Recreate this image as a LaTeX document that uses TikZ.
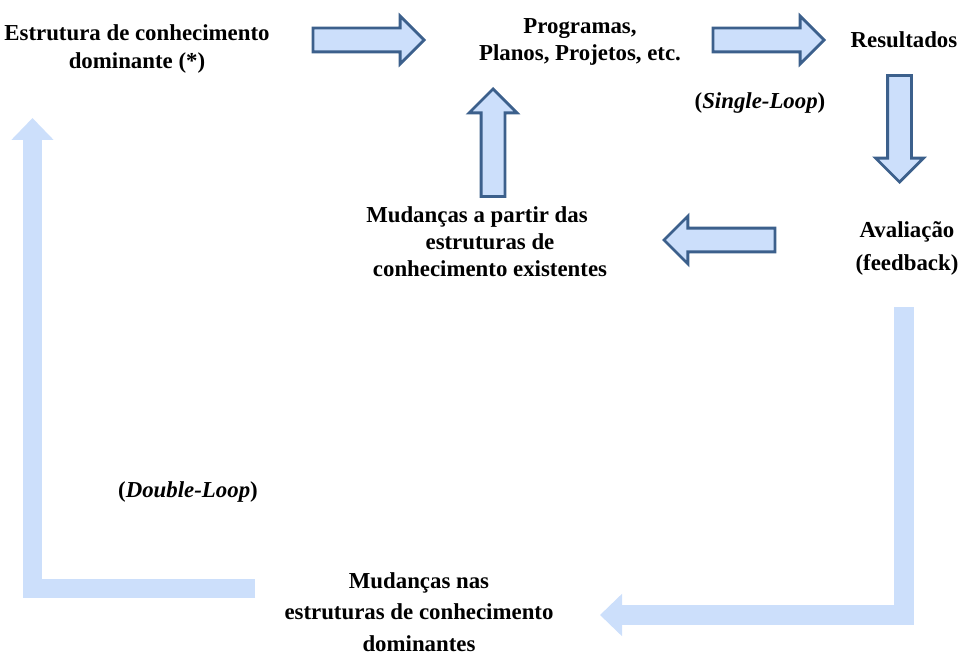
\documentclass[tikz,border=0pt]{standalone}
\usepackage{fontspec}
\setmainfont{Liberation Serif}
\usetikzlibrary{positioning, shapes, arrows.meta}
\definecolor{my_lightblue}{RGB}{204, 223, 251}
\definecolor{my_darkblue}{RGB}{60, 96, 140}
\tikzset {
  txt/.style = {align=center, inner sep=0pt, font=\fontsize{13}{15.4}\selectfont\bfseries},
  blockarrow/.style = {single arrow, draw=my_darkblue, fill=my_lightblue, line width=1.6pt, single arrow head extend=0.24cm, inner xsep=0pt, inner ysep=0.21cm, minimum width=0pt, minimum height=#1},
  blockarrow/.default = 2.22cm,
  bigline/.style = {-{Triangle[length=0.44cm, width=0.82cm]}, line width=0.4cm, color=my_lightblue}
}

\begin{document}
\begin{tikzpicture}[x=0.02cm, y=-0.02cm]
    \useasboundingbox (0,0) rectangle (960,655);

    % texts
    \node[txt] (estrutura) at (137,49) {Estrutura de conhecimento\\dominante (*)};
    \node[txt] (programas) at (580,42) {Programas,\\Planos, Projetos, etc.};
    \node[txt] (resultados) at (904,40) {Resultados};
    \node[txt] (single) at (760,103) {(\textit{Single-Loop})};
    \node[txt, font=\fontsize{13}{18.8}\selectfont\bfseries] (avaliacao) at (907,248) {Avalia\c{c}\~ao\\(feedback)};
    \node[txt] (mudexist) at (490,242) {\hspace*{-0.52cm}Mudan\c{c}as a partir das\\estruturas de\\conhecimento existentes};
    \node[txt] (double) at (188,492) {(\textit{Double-Loop})};
    \node[txt, font=\fontsize{13}{17.9}\selectfont\bfseries] (mudnas) at (419,612) {Mudan\c{c}as nas\\estruturas de conhecimento\\dominantes};

    % single loop arrows
    \node[blockarrow, anchor=tip] (a1) at (426,40) {};
    \node[blockarrow, anchor=tip] (a2) at (826,40) {};
    \node[blockarrow=2.13cm, rotate=-90, anchor=tip] (a3) at (899.5,184) {};
    \node[blockarrow, rotate=180, anchor=tip] (a4) at (662,240) {};
    \node[blockarrow=2.15cm, rotate=90, anchor=tip] (a5) at (493,87) {};

    % double loop
    \coordinate (fbstart) at (904,307);
    \coordinate (fbend) at (600,615);
    \coordinate (dlstart) at (255,588);
    \coordinate (dlend) at (32.5,118);
    \draw[bigline] (fbstart) |- (fbend);
    \draw[bigline, line width=0.38cm] (dlstart) -| (dlend);

\end{tikzpicture}
\end{document}
